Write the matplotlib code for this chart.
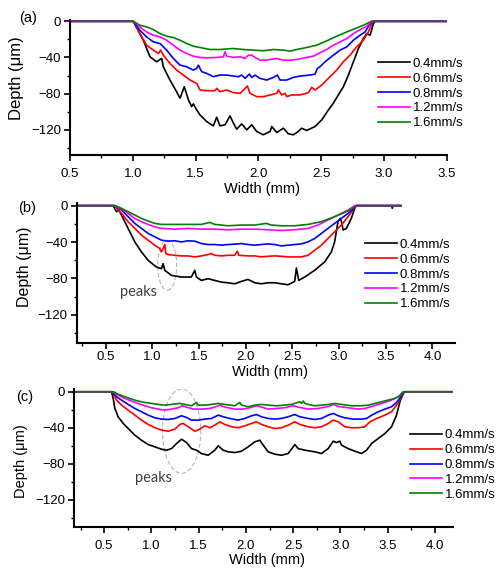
import matplotlib.pyplot as plt
from matplotlib.patches import Ellipse
from matplotlib.ticker import MultipleLocator

plt.rcParams['font.family'] = ['Liberation Sans', 'DejaVu Sans']

speeds = ["0.4mm/s", "0.6mm/s", "0.8mm/s", "1.2mm/s", "1.6mm/s"]
colors = ["black", "#ff0000", "#0000ff", "#ff00ff", "#008000"]

# panel (a) profiles, (width mm, depth um)
a_04 = [(0.50, 0), (1.004, 0), (1.084, -20.9), (1.137, -39.3), (1.190, -44.8), (1.230, -41.1),
        (1.243, -50.3), (1.296, -65.0), (1.349, -77.9), (1.376, -85.2), (1.410, -72.4), (1.443, -87.0),
        (1.469, -94.4), (1.482, -91.4), (1.509, -98.1), (1.535, -103.6), (1.588, -110.9), (1.641, -115.7),
        (1.668, -106.2), (1.694, -115.7), (1.734, -114.6), (1.774, -104.7), (1.801, -112.7), (1.827, -119.4),
        (1.867, -113.5), (1.907, -120.1), (1.947, -114.6), (1.986, -121.9), (2.039, -125.6), (2.093, -121.9),
        (2.106, -116.4), (2.146, -123.0), (2.199, -118.3), (2.238, -124.5), (2.278, -125.6), (2.318, -121.9),
        (2.344, -118.3), (2.384, -120.8), (2.451, -116.4), (2.504, -109.1), (2.557, -98.1), (2.596, -90.7),
        (2.636, -81.5), (2.676, -72.4), (2.716, -59.5), (2.756, -44.8), (2.796, -30.1), (2.835, -19.1),
        (2.862, -13.6), (2.889, -15.4), (2.915, -2.6), (2.928, 0), (3.50, 0)]
a_06 = [(0.50, 0), (1.004, 0), (1.057, -13.6), (1.110, -26.4), (1.164, -31.9), (1.204, -35.6),
        (1.222, -31.9), (1.243, -37.5), (1.296, -46.6), (1.349, -54.0), (1.403, -59.5), (1.456, -65.0),
        (1.509, -68.7), (1.535, -76.0), (1.588, -76.8), (1.655, -76.8), (1.668, -74.2), (1.694, -77.9),
        (1.748, -76.0), (1.801, -79.0), (1.854, -79.7), (1.894, -74.2), (1.912, -71.6), (1.933, -79.7),
        (1.986, -83.4), (2.039, -83.4), (2.093, -81.5), (2.146, -79.7), (2.159, -76.0), (2.185, -81.5),
        (2.212, -79.7), (2.225, -83.4), (2.265, -81.5), (2.331, -81.5), (2.398, -79.0), (2.424, -73.1),
        (2.451, -76.0), (2.504, -70.5), (2.570, -61.3), (2.623, -54.0), (2.676, -44.8), (2.729, -37.5),
        (2.782, -28.3), (2.835, -20.9), (2.875, -11.8), (2.902, -2.6), (2.915, 0), (3.50, 0)]
a_08 = [(0.50, 0), (1.004, 0), (1.057, -9.9), (1.110, -17.3), (1.164, -22.8), (1.217, -24.6),
        (1.270, -31.9), (1.323, -41.1), (1.376, -48.5), (1.429, -50.3), (1.482, -54.0), (1.509, -52.1),
        (1.522, -48.5), (1.549, -55.8), (1.588, -57.6), (1.641, -61.3), (1.694, -59.5), (1.748, -59.5),
        (1.801, -60.6), (1.840, -61.3), (1.867, -59.5), (1.894, -63.2), (1.928, -58.4), (1.947, -62.1),
        (1.973, -59.5), (2.013, -63.2), (2.066, -65.0), (2.119, -62.1), (2.151, -59.5), (2.172, -65.0),
        (2.225, -65.0), (2.278, -62.1), (2.331, -60.6), (2.411, -59.5), (2.451, -58.4), (2.469, -52.1),
        (2.490, -50.3), (2.530, -44.8), (2.596, -37.5), (2.650, -31.9), (2.703, -28.3), (2.756, -20.9),
        (2.809, -15.4), (2.849, -11.8), (2.889, -2.6), (2.910, 0), (3.50, 0)]
a_12 = [(0.50, 0), (1.004, 0), (1.057, -6.2), (1.110, -11.8), (1.164, -15.4), (1.217, -17.3),
        (1.270, -20.9), (1.323, -26.4), (1.376, -31.9), (1.429, -35.6), (1.482, -38.6), (1.535, -40.0),
        (1.588, -40.4), (1.668, -40.0), (1.721, -39.3), (1.734, -33.7), (1.748, -38.6), (1.801, -40.0),
        (1.854, -39.3), (1.894, -41.1), (1.920, -37.5), (1.947, -37.5), (1.973, -40.0), (2.013, -43.0),
        (2.066, -43.0), (2.146, -41.1), (2.199, -43.0), (2.252, -43.0), (2.305, -42.2), (2.384, -40.0),
        (2.437, -38.6), (2.490, -34.8), (2.543, -31.2), (2.596, -26.4), (2.650, -22.8), (2.703, -19.1),
        (2.756, -13.6), (2.809, -9.2), (2.862, -5.5), (2.902, 0), (3.50, 0)]
a_16 = [(0.50, 0), (1.004, 0), (1.057, -4.4), (1.110, -6.2), (1.164, -9.2), (1.217, -13.6),
        (1.270, -16.5), (1.323, -18.0), (1.376, -20.9), (1.429, -24.6), (1.482, -27.5), (1.535, -29.0),
        (1.615, -31.2), (1.694, -31.2), (1.801, -30.1), (1.880, -31.2), (1.960, -31.9), (2.039, -32.6),
        (2.119, -31.2), (2.199, -31.9), (2.252, -33.0), (2.305, -31.2), (2.384, -29.0), (2.464, -26.4),
        (2.543, -21.7), (2.623, -16.5), (2.703, -11.8), (2.782, -7.3), (2.835, -4.4), (2.889, -0.7),
        (2.902, 0), (3.50, 0)]

# panel (b)
b_04 = [(0.19, 0), (0.578, 0), (0.614, -6.6), (0.639, -4.8), (0.668, -10.3), (0.739, -25.0),
        (0.811, -39.8), (0.882, -50.8), (0.953, -60.0), (1.042, -67.4), (1.096, -69.2), (1.114, -63.7),
        (1.132, -71.0), (1.203, -76.6), (1.310, -78.4), (1.417, -78.4), (1.453, -71.0), (1.471, -78.4),
        (1.524, -82.1), (1.596, -80.2), (1.667, -82.1), (1.739, -84.0), (1.810, -84.7), (1.881, -85.8),
        (1.953, -83.2), (2.024, -81.0), (2.096, -84.7), (2.167, -85.8), (2.238, -84.7), (2.310, -84.7),
        (2.381, -85.8), (2.453, -86.9), (2.524, -83.2), (2.542, -68.5), (2.567, -82.1), (2.631, -78.4),
        (2.738, -71.0), (2.845, -61.8), (2.917, -50.8), (2.952, -39.8), (2.970, -28.7), (2.988, -17.6),
        (3.013, -13.9), (3.031, -19.5), (3.042, -26.8), (3.078, -25.0), (3.131, -13.9), (3.167, -2.9),
        (3.185, 0), (3.66, 0)]
b_06 = [(0.19, 0), (0.596, 0), (0.632, -4.8), (0.668, -8.4), (0.739, -17.6), (0.811, -25.0),
        (0.882, -32.4), (0.953, -37.9), (1.024, -43.4), (1.078, -47.1), (1.096, -50.8), (1.114, -47.1),
        (1.132, -42.7), (1.143, -52.6), (1.167, -53.7), (1.239, -54.5), (1.310, -55.2), (1.381, -55.2),
        (1.453, -56.3), (1.524, -55.2), (1.596, -53.7), (1.631, -52.6), (1.667, -54.5), (1.739, -55.2),
        (1.810, -54.5), (1.881, -54.5), (1.910, -50.0), (1.924, -54.5), (2.024, -55.2), (2.096, -55.2),
        (2.167, -56.3), (2.238, -55.6), (2.310, -55.2), (2.381, -55.6), (2.453, -56.3), (2.524, -56.3),
        (2.595, -56.3), (2.667, -54.5), (2.738, -49.0), (2.810, -43.4), (2.881, -36.0), (2.952, -28.7),
        (3.024, -21.3), (3.096, -12.1), (3.149, -4.8), (3.185, 0), (3.66, 0)]
b_08 = [(0.19, 0), (0.596, 0), (0.668, -4.8), (0.739, -12.1), (0.811, -19.5), (0.882, -25.0),
        (0.953, -30.5), (1.024, -34.2), (1.096, -37.9), (1.167, -39.0), (1.239, -38.6), (1.310, -39.8),
        (1.381, -38.6), (1.453, -39.0), (1.524, -41.6), (1.596, -42.7), (1.667, -42.7), (1.739, -43.4),
        (1.810, -42.7), (1.881, -42.3), (1.953, -41.6), (2.024, -42.7), (2.096, -43.4), (2.167, -42.7),
        (2.238, -42.0), (2.310, -42.7), (2.381, -44.2), (2.453, -43.4), (2.524, -42.7), (2.595, -42.0),
        (2.667, -39.8), (2.738, -36.1), (2.810, -30.5), (2.881, -25.0), (2.952, -19.5), (3.024, -14.0),
        (3.096, -8.5), (3.149, -3.7), (3.185, 0), (3.56, 0), (3.57, -3.0), (3.58, 0), (3.66, 0)]
b_12 = [(0.19, 0), (0.596, 0), (0.668, -3.7), (0.739, -8.5), (0.811, -14.0), (0.882, -17.6),
        (0.953, -20.6), (1.024, -23.2), (1.096, -25.0), (1.239, -25.8), (1.381, -25.0), (1.524, -25.8),
        (1.667, -25.8), (1.810, -26.5), (1.953, -25.8), (2.096, -25.8), (2.238, -26.5), (2.381, -27.3),
        (2.524, -26.5), (2.667, -25.0), (2.774, -21.3), (2.881, -15.8), (2.952, -12.1), (3.024, -8.5),
        (3.096, -4.8), (3.167, 0), (3.66, 0)]
b_16 = [(0.19, 0), (0.596, 0), (0.668, -2.9), (0.739, -6.6), (0.811, -10.3), (0.882, -14.0),
        (0.953, -16.9), (1.024, -19.5), (1.096, -20.6), (1.239, -20.6), (1.381, -20.6), (1.524, -20.6),
        (1.613, -18.4), (1.667, -20.6), (1.810, -22.1), (1.953, -21.3), (2.096, -21.3), (2.220, -19.5),
        (2.274, -21.3), (2.381, -22.1), (2.524, -22.1), (2.667, -20.6), (2.810, -17.6), (2.952, -12.1),
        (3.096, -5.9), (3.167, -1.1), (3.185, 0), (3.66, 0)]

# panel (c)
c_04 = [(0.18, 0), (0.578, 0), (0.596, -7.4), (0.613, -18.5), (0.648, -27.7), (0.702, -35.1),
        (0.754, -40.7), (0.825, -48.1), (0.895, -53.7), (0.966, -58.5), (1.037, -61.1), (1.107, -63.7),
        (1.160, -64.8), (1.213, -63.0), (1.266, -57.4), (1.319, -52.6), (1.372, -56.3), (1.424, -63.0),
        (1.477, -64.8), (1.530, -68.5), (1.601, -70.4), (1.671, -64.8), (1.707, -59.9), (1.760, -64.8),
        (1.812, -66.6), (1.883, -67.4), (1.953, -65.9), (2.024, -61.1), (2.094, -55.5), (2.147, -53.7),
        (2.183, -59.2), (2.236, -66.6), (2.306, -69.2), (2.377, -70.4), (2.447, -68.5), (2.500, -61.1),
        (2.518, -58.5), (2.553, -63.0), (2.624, -64.8), (2.730, -66.6), (2.800, -68.5), (2.871, -63.0),
        (2.924, -54.8), (2.959, -56.3), (2.994, -54.8), (3.012, -59.2), (3.047, -61.1), (3.083, -63.0),
        (3.153, -65.9), (3.224, -68.5), (3.277, -64.8), (3.330, -57.4), (3.400, -51.8), (3.471, -46.3),
        (3.541, -38.9), (3.594, -25.9), (3.630, -11.1), (3.665, -1.8), (3.683, 0), (4.19, 0)]
c_06 = [(0.18, 0), (0.590, 0), (0.596, -1.8), (0.631, -9.2), (0.684, -14.8), (0.754, -20.3),
        (0.825, -25.9), (0.895, -31.4), (0.966, -36.2), (1.037, -39.9), (1.107, -42.5), (1.178, -43.7),
        (1.248, -41.4), (1.301, -36.2), (1.336, -35.1), (1.389, -38.8), (1.460, -43.7), (1.513, -41.4),
        (1.565, -37.7), (1.618, -39.9), (1.671, -37.0), (1.724, -33.3), (1.777, -36.2), (1.848, -38.8),
        (1.918, -39.9), (1.989, -37.7), (2.059, -35.1), (2.112, -33.3), (2.165, -36.2), (2.236, -38.8),
        (2.306, -40.7), (2.377, -39.9), (2.447, -37.0), (2.518, -33.3), (2.571, -36.2), (2.659, -38.8),
        (2.730, -39.9), (2.800, -38.8), (2.871, -35.1), (2.924, -31.4), (2.977, -33.3), (3.047, -38.8),
        (3.118, -39.9), (3.189, -39.9), (3.259, -38.8), (3.312, -33.3), (3.383, -29.6), (3.471, -25.9),
        (3.541, -22.2), (3.594, -14.8), (3.640, -7.4), (3.675, 0), (4.19, 0)]
c_08 = [(0.18, 0), (0.590, 0), (0.596, -0.7), (0.631, -5.5), (0.684, -9.2), (0.754, -14.0),
        (0.825, -18.5), (0.895, -22.2), (0.966, -25.9), (1.037, -28.9), (1.107, -30.3), (1.178, -30.7),
        (1.248, -29.6), (1.319, -26.6), (1.372, -28.5), (1.424, -31.4), (1.495, -31.4), (1.565, -30.3),
        (1.636, -29.6), (1.707, -25.9), (1.760, -27.7), (1.830, -29.6), (1.918, -31.4), (1.989, -29.6),
        (2.059, -26.6), (2.112, -25.2), (2.165, -27.7), (2.236, -29.6), (2.306, -30.3), (2.377, -29.6),
        (2.447, -27.7), (2.518, -25.2), (2.571, -27.7), (2.659, -29.6), (2.730, -30.7), (2.800, -29.6),
        (2.871, -25.9), (2.924, -24.0), (2.977, -26.6), (3.047, -28.9), (3.136, -30.3), (3.224, -30.3),
        (3.277, -29.6), (3.330, -25.9), (3.400, -22.2), (3.471, -19.2), (3.541, -16.6), (3.594, -11.8),
        (3.640, -5.5), (3.675, 0), (4.19, 0)]
c_12 = [(0.18, 0), (0.596, 0), (0.648, -3.7), (0.719, -7.4), (0.790, -10.3), (0.860, -12.9),
        (0.930, -15.5), (1.001, -17.7), (1.072, -19.2), (1.142, -20.3), (1.213, -19.2), (1.283, -17.7),
        (1.326, -15.5), (1.372, -17.0), (1.442, -19.2), (1.530, -19.2), (1.618, -18.5), (1.689, -16.3),
        (1.724, -14.8), (1.777, -17.0), (1.883, -19.2), (1.971, -19.2), (2.042, -17.7), (2.112, -15.5),
        (2.165, -17.0), (2.236, -19.2), (2.324, -18.5), (2.412, -17.7), (2.500, -15.5), (2.553, -17.0),
        (2.659, -19.2), (2.765, -18.5), (2.871, -16.3), (2.924, -14.0), (2.977, -16.3), (3.083, -17.7),
        (3.189, -19.2), (3.259, -18.5), (3.330, -16.3), (3.400, -14.0), (3.471, -11.8), (3.541, -9.2),
        (3.612, -5.5), (3.665, 0), (4.19, 0)]
c_16 = [(0.18, 0), (0.596, 0), (0.648, -2.6), (0.719, -5.5), (0.790, -8.1), (0.860, -10.3),
        (0.930, -11.8), (1.001, -12.9), (1.072, -14.0), (1.142, -14.8), (1.213, -14.0), (1.301, -12.9),
        (1.354, -14.0), (1.424, -15.5), (1.477, -11.8), (1.495, -14.8), (1.565, -14.8), (1.636, -14.0),
        (1.707, -12.9), (1.777, -14.0), (1.883, -15.5), (1.936, -11.8), (1.953, -14.8), (2.024, -16.6),
        (2.094, -14.8), (2.165, -14.0), (2.236, -14.8), (2.324, -15.5), (2.412, -14.8), (2.483, -14.0),
        (2.571, -11.1), (2.589, -12.9), (2.606, -10.3), (2.624, -12.9), (2.659, -14.0), (2.730, -15.5),
        (2.800, -14.8), (2.871, -14.0), (2.942, -12.9), (3.012, -14.0), (3.118, -15.5), (3.224, -15.5),
        (3.295, -14.8), (3.365, -12.9), (3.436, -11.1), (3.506, -9.2), (3.577, -7.4), (3.630, -4.4),
        (3.665, 0), (4.19, 0)]

panels = [
    dict(tag="(a)", curves=[a_04, a_06, a_08, a_12, a_16], xlim=(0.5, 3.5), ylim=(-148, 1.5),
         pos=[0.141, 0.728, 0.760, 0.237], leg=(0.817, 0.456), ylab=(-0.122, 0.57), ylsize=12,
         xpad=5, xlab=(0.51, -0.2), tagpos=(0.056, 0.968)),
    dict(tag="(b)", curves=[b_04, b_06, b_08, b_12, b_16], xlim=(0.19, 4.24), ylim=(-151, 3),
         pos=[0.155, 0.398, 0.762, 0.246], leg=(0.762, 0.49), ylab=(-0.119, 0.546), ylsize=11.5,
         xpad=2, xlab=(0.51, -0.157), tagpos=(0.054, 0.635),
         ring=((1.158, -65.5), 0.203, 55), peaks=(0.65, -95)),
    dict(tag="(c)", curves=[c_04, c_06, c_08, c_12, c_16], xlim=(0.18, 4.19), ylim=(-150, 3),
         pos=[0.149, 0.0754, 0.764, 0.242], leg=(0.887, 0.449), ylab=(-0.122, 0.48), ylsize=10.5,
         xpad=5, xlab=(0.51, -0.19), tagpos=(0.050, 0.304),
         ring=((1.32, -43.7), 0.405, 93.7), peaks=(0.825, -96)),
]

fig = plt.figure(figsize=(4.96, 5.70), dpi=100)

for p in panels:
    ax = fig.add_axes(p["pos"])
    for pts, lab, col in zip(p["curves"], speeds, colors):
        xs, ys = zip(*pts)
        ax.plot(xs, ys, color=col, lw=1.2, label=lab)
    ax.set_xlim(*p["xlim"])
    ax.set_ylim(*p["ylim"])
    ax.xaxis.set_major_locator(MultipleLocator(0.5))
    ax.xaxis.set_minor_locator(MultipleLocator(0.25))
    ax.yaxis.set_major_locator(MultipleLocator(40))
    ax.yaxis.set_minor_locator(MultipleLocator(20))
    ax.xaxis.set_major_formatter(lambda v, pos: f"{v:.1f}")
    ax.spines["top"].set_visible(False)
    ax.spines["right"].set_visible(False)
    for s in ("left", "bottom"):
        ax.spines[s].set_linewidth(1.5)
    ax.tick_params(which="major", length=4, width=1.2, labelsize=9.5)
    ax.tick_params(axis="x", which="major", pad=p["xpad"])
    ax.tick_params(axis="y", which="major", pad=2.5)
    ax.tick_params(which="minor", length=2.5, width=1.0)
    ax.set_xlabel("Width (mm)", fontsize=10.5)
    ax.set_ylabel("Depth (μm)", fontsize=p["ylsize"])
    ax.xaxis.set_label_coords(*p["xlab"])
    ax.yaxis.set_label_coords(*p["ylab"])
    ax.legend(loc="center left", bbox_to_anchor=p["leg"], frameon=False, fontsize=9.5,
              borderpad=0, borderaxespad=0, handlelength=2.4, handletextpad=0.25,
              labelspacing=0.2)
    fig.text(p["tagpos"][0], p["tagpos"][1], p["tag"], fontsize=10.5, ha="center", va="center")
    if "ring" in p:
        c, w, h = p["ring"]
        ax.add_patch(Ellipse(c, w, h, fill=False, ec="#b5b5b5", lw=0.8, ls=(0, (4, 2))))
        ax.text(p["peaks"][0], p["peaks"][1], "peaks", fontsize=10.5, color="#404040",
                family=["Lato", "DejaVu Sans"], ha="left", va="center")

fig.savefig("out.png", dpi=100)
